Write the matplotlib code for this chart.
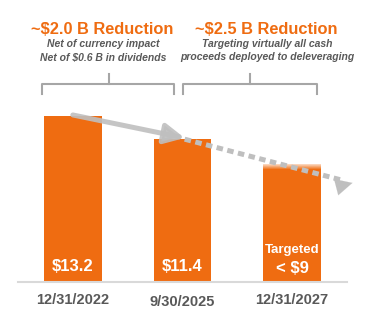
import matplotlib.pyplot as plt
import numpy as np

plt.rcParams['font.family'] = ['Liberation Sans', 'DejaVu Sans']

# data
dates = ['12/31/2022', '9/30/2025', '12/31/2027']
debt = [13.2, 11.4, 9.0]
labels = ['$13.2', '$11.4', '< $9']
headlines = ['~$2.0 B Reduction', '~$2.5 B Reduction']
notes = ['Net of currency impact\nNet of $0.6 B in dividends',
         'Targeting virtually all cash\nproceeds deployed to deleveraging']

orange = '#EF6C11'
gray_txt = '#595959'
gray_line = '#BFBFBF'

fig = plt.figure(figsize=(3.87, 3.28), dpi=100)
ax = fig.add_axes([0.0465, 0.1402, 0.8501, 0.8598])
ax.set_xlim(-0.5, 2.5)
ax.set_ylim(0, 22.42)
ax.axis('off')

x = np.arange(len(dates))
ax.bar(x, debt, width=0.527, color=orange, zorder=2)
# faded top on the target bar
for i in range(6):
    ax.bar(x[2], 0.07, bottom=debt[2] + i * 0.07, width=0.527,
           color=orange, alpha=1 - (i + 1) / 7, lw=0, zorder=2)

ax.plot([-0.5, 2.5], [0, 0], color='#D9D9D9', lw=1.5, clip_on=False, zorder=3)

# value labels
ax.text(x[0], 1.27, labels[0], ha='center', va='center', color='white',
        fontsize=12, fontweight='bold', zorder=4)
ax.text(x[1], 1.27, labels[1], ha='center', va='center', color='white',
        fontsize=12, fontweight='bold', zorder=4)
ax.text(x[2], 2.54, 'Targeted', ha='center', va='center', color='white',
        fontsize=9.5, fontweight='bold', zorder=4)
ax.text(x[2], 1.11, labels[2], ha='center', va='center', color='white',
        fontsize=12, fontweight='bold', zorder=4)

# date labels
for xi, d, yy in zip(x, dates, [-1.43, -1.6, -1.43]):
    ax.text(xi, yy, d, ha='center', va='center', color=gray_txt,
            fontsize=10.5, fontweight='bold')

# trend arrows
ax.annotate('', xy=(1.02, debt[1] + 0.05), xytext=(0, debt[0] + 0.08),
            arrowprops=dict(arrowstyle='-|>,head_length=0.6,head_width=0.3',
                            mutation_scale=20, lw=3.6, color=gray_line,
                            alpha=0.9, shrinkA=0, shrinkB=0), zorder=5)
slope = debt[2] - debt[1]
x_end = 2.55
y_end = debt[1] + slope * (x_end - 1) + 0.2
xs = np.array([1.02, x_end - 0.1])
ax.plot(xs, debt[1] + slope * (xs - 1) + 0.2 * (xs - 1) / 1.55, color=gray_line,
        lw=3.6, ls=(0, (1.3, 0.9)), dash_capstyle='butt', zorder=5, clip_on=False)
ax.annotate('', xy=(x_end, y_end), xytext=(x_end - 0.1, y_end - slope * -0.1 + 0.013),
            arrowprops=dict(arrowstyle='-|>,head_length=0.6,head_width=0.3',
                            mutation_scale=20, lw=0.1, color=gray_line,
                            shrinkA=0, shrinkB=0), zorder=5, annotation_clip=False)

# braces
for x0, x1, xm in [(-0.282, 0.927, 0.327), (1.009, 2.227, 1.618)]:
    ax.plot([x0, x0, x1, x1], [14.95, 15.75, 15.75, 14.95], color='#A6A6A6',
            lw=1.5, clip_on=False, solid_joinstyle='round')
    ax.plot([xm, xm], [15.75, 16.55], color='#A6A6A6', lw=1.5, clip_on=False)

# headlines and notes
for xc, h, n in zip([0.264, 1.764], headlines, notes):
    ax.text(xc, 20.1, h, ha='center', va='center', color=orange,
            fontsize=11.8, fontweight='bold')
    ax.text(xc + 0.01, 18.4, n, ha='center', va='center', color=gray_txt,
            fontsize=7.5, fontweight='bold', style='italic', linespacing=1.45)

fig.savefig('out.png', dpi=100)
